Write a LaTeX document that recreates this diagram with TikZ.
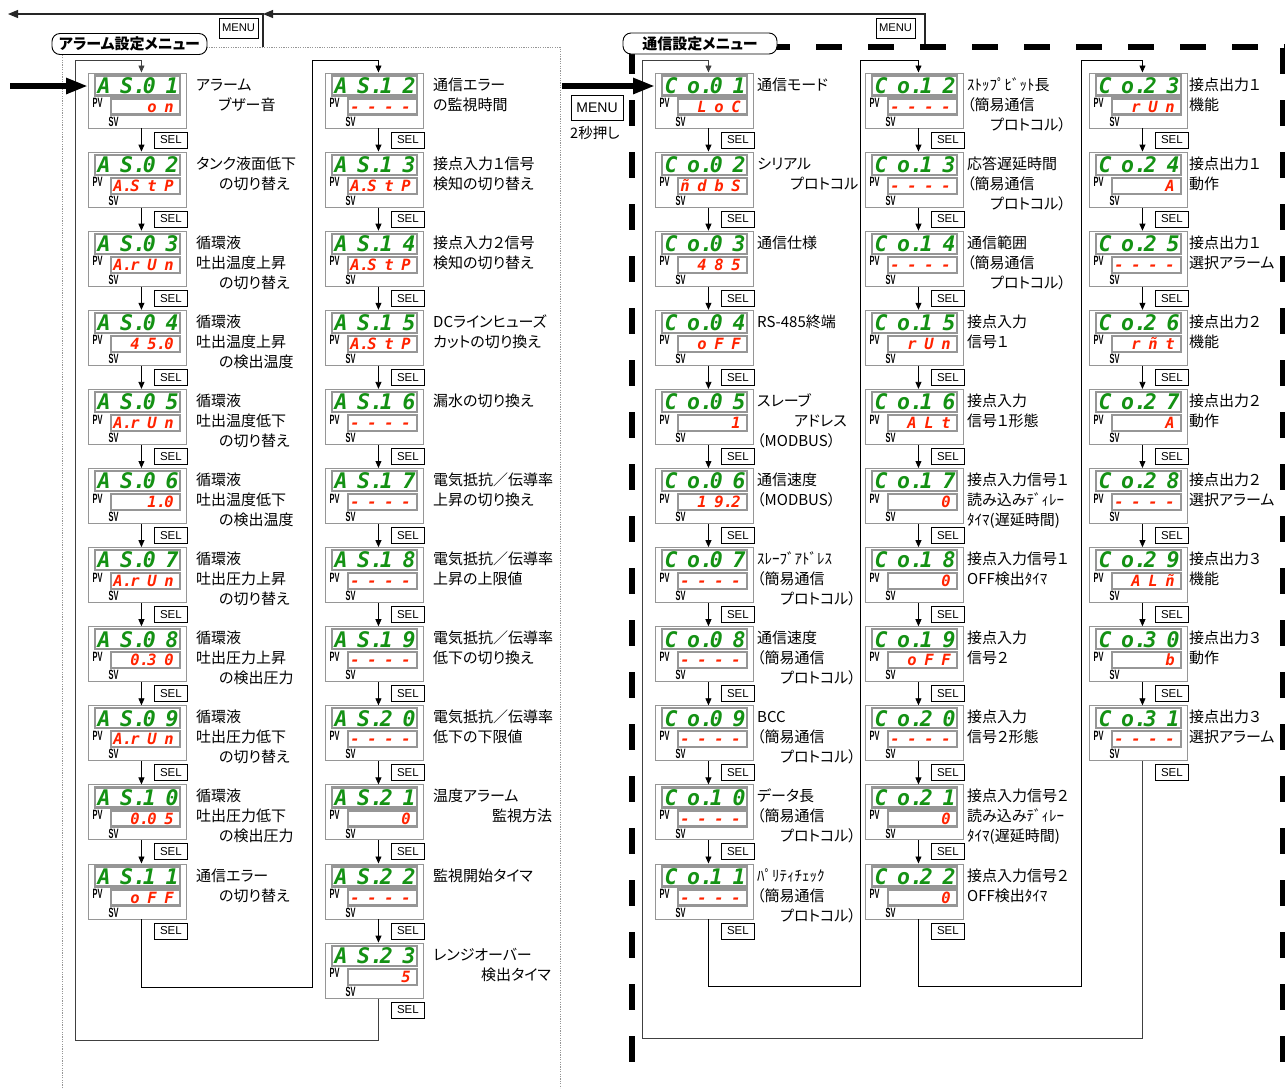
\documentclass[tikz,border=0pt]{standalone}
\usepackage{fontspec}
\setmainfont{Noto Sans CJK JP}[RawFeature=+palt]
\newfontfamily\segf{DejaVu Sans Mono}
\newfontfamily\arial{Liberation Sans}
\usetikzlibrary{arrows.meta}
\definecolor{sgreen}{RGB}{20,145,20}
\definecolor{sred}{RGB}{255,35,0}
\definecolor{fgray}{RGB}{150,150,150}
\newcommand\dt{\rlap{.}}
\newcounter{lbc}
\tikzset{
 pbox/.style={draw=fgray, line width=0.9pt, minimum width=98pt, minimum height=55pt, anchor=north west, inner sep=0pt, fill=white},
 dfr/.style={draw=fgray, line width=2.2pt},
 pvl/.style={font=\arial\bfseries\fontsize{13.5}{13.5}\selectfont, inner sep=0pt},
 pvc/.style={font=\segf\bfseries\itshape\fontsize{21.5}{21.5}\selectfont, text=sgreen, anchor=base, inner sep=0pt},
 svc/.style={font=\segf\bfseries\itshape\fontsize{15.5}{15.5}\selectfont, text=sred, anchor=base, inner sep=0pt},
 selbox/.style={draw, line width=0.8pt, font=\arial\fontsize{11.5}{11.5}\selectfont, minimum width=33pt, minimum height=16pt, inner sep=0pt, anchor=north west},
 lab/.style={anchor=base west, inner sep=0pt, font=\fontsize{15}{15}\selectfont},
 flow/.style={line width=0.8pt, -{Triangle[length=7pt,width=6pt]}},
 loopl/.style={line width=0.9pt, -{Triangle[length=7pt,width=6pt]}},
 toparrow/.style={line width=1.1pt, black!85, -{Triangle[length=10pt,width=8pt]}},
 bigarrow/.style={line width=5.5pt, -{Triangle[length=22pt,width=15pt]}},
 ttl/.style={draw, line width=0.9pt, fill=white, rounded corners=8pt, inner sep=0pt, font=\bfseries\fontsize{15}{15}\selectfont},
 menubox/.style={draw, line width=0.8pt, fill=white, inner sep=0pt, font=\arial\fontsize{11.2}{11.2}\selectfont, minimum width=39pt, minimum height=20pt},
 thickdash/.style={line width=6pt, dash pattern=on 26pt off 26pt},
}
\newcommand\dpanel[5]{%
 \pgfmathsetmacro\yo{72.5+79.1*(#2-1)}%
 \node[pbox] (#5) at (#1,\yo) {};
 \draw[dfr] (#1+7,\yo+3) rectangle (#1+92,\yo+23);
 \draw[dfr] (#1+23,\yo+26) rectangle (#1+92,\yo+42);
 \node[pvl] (#5-pv) at (#1+9.5,\yo+30.5) {\scalebox{0.55}[1]{PV}};
 \node[pvl] (#5-sv) at (#1+25.5,\yo+49) {\scalebox{0.55}[1]{SV}};
 \foreach \c [count=\i] in {#3} {\node[pvc] (#5-p\i) at (#1+16+22.7*\i-22.7,\yo+20.8) {\c};}
 \foreach \c [count=\i] in {#4} {\node[svc] (#5-s\i) at (#1+13+17*\i,\yo+39.6) {\c};}
 \node[selbox] (#5-sel) at (#1+66,\yo+59) {SEL};
}
\newcommand\lb[4]{%
 \pgfmathsetmacro\ly{72.5+79.1*(#2-1)+17.5+20*(#3-1)}%
 \stepcounter{lbc}%
 \node[lab] (lab\arabic{lbc}) at (#1,\ly) {#4};
}
\begin{document}
\begin{tikzpicture}[x=1pt,y=-1pt]
\useasboundingbox (0,0) rectangle (1285,1088);
\fill[white] (0,0) rectangle (1285,1088);

% frames
\draw[fgray, line width=0.8pt, dash pattern=on 1.2pt off 1.2pt] (62,1088) -- (62,47) -- (560,47) -- (560,1088);
\draw[thickdash] (764,47) -- (1286,47);
\draw[thickdash] (632,48) -- (632,1088);
\draw[thickdash] (1283,48) -- (1283,1088);

% top connectors
\coordinate (af) at (263,47);
\coordinate (aout) at (8,14);
\coordinate (aj) at (263,14);
\coordinate (cf) at (925,44);
\draw[toparrow] (af) |- (aout);
\draw[toparrow] (cf) |- (aj);
\node[menubox] (menuA) at (238.5,28) {MENU};
\node[menubox] (menuC) at (895.5,28) {MENU};

% alarm panels
\dpanel{88}{1}{A,S\dt,0,1}{{},{},o,n}{a1}
\dpanel{88}{2}{A,S\dt,0,2}{A\dt,S,t,P}{a2}
\dpanel{88}{3}{A,S\dt,0,3}{A\dt,r,U,n}{a3}
\dpanel{88}{4}{A,S\dt,0,4}{{},4,5\dt,0}{a4}
\dpanel{88}{5}{A,S\dt,0,5}{A\dt,r,U,n}{a5}
\dpanel{88}{6}{A,S\dt,0,6}{{},{},1\dt,0}{a6}
\dpanel{88}{7}{A,S\dt,0,7}{A\dt,r,U,n}{a7}
\dpanel{88}{8}{A,S\dt,0,8}{{},0\dt,3,0}{a8}
\dpanel{88}{9}{A,S\dt,0,9}{A\dt,r,U,n}{a9}
\dpanel{88}{10}{A,S\dt,1,0}{{},0\dt,0,5}{a10}
\dpanel{88}{11}{A,S\dt,1,1}{{},o,F,F}{a11}
\dpanel{325}{1}{A,S\dt,1,2}{-,-,-,-}{a12}
\dpanel{325}{2}{A,S\dt,1,3}{A\dt,S,t,P}{a13}
\dpanel{325}{3}{A,S\dt,1,4}{A\dt,S,t,P}{a14}
\dpanel{325}{4}{A,S\dt,1,5}{A\dt,S,t,P}{a15}
\dpanel{325}{5}{A,S\dt,1,6}{-,-,-,-}{a16}
\dpanel{325}{6}{A,S\dt,1,7}{-,-,-,-}{a17}
\dpanel{325}{7}{A,S\dt,1,8}{-,-,-,-}{a18}
\dpanel{325}{8}{A,S\dt,1,9}{-,-,-,-}{a19}
\dpanel{325}{9}{A,S\dt,2,0}{-,-,-,-}{a20}
\dpanel{325}{10}{A,S\dt,2,1}{{},{},{},0}{a21}
\dpanel{325}{11}{A,S\dt,2,2}{-,-,-,-}{a22}
\dpanel{325}{12}{A,S\dt,2,3}{{},{},{},5}{a23}

% comm panels
\dpanel{655}{1}{C,o\dt,0,1}{{},L,o,C}{c1}
\dpanel{655}{2}{C,o\dt,0,2}{ñ,d,b,S}{c2}
\dpanel{655}{3}{C,o\dt,0,3}{{},4,8,5}{c3}
\dpanel{655}{4}{C,o\dt,0,4}{{},o,F,F}{c4}
\dpanel{655}{5}{C,o\dt,0,5}{{},{},{},1}{c5}
\dpanel{655}{6}{C,o\dt,0,6}{{},1,9\dt,2}{c6}
\dpanel{655}{7}{C,o\dt,0,7}{-,-,-,-}{c7}
\dpanel{655}{8}{C,o\dt,0,8}{-,-,-,-}{c8}
\dpanel{655}{9}{C,o\dt,0,9}{-,-,-,-}{c9}
\dpanel{655}{10}{C,o\dt,1,0}{-,-,-,-}{c10}
\dpanel{655}{11}{C,o\dt,1,1}{-,-,-,-}{c11}
\dpanel{865}{1}{C,o\dt,1,2}{-,-,-,-}{c12}
\dpanel{865}{2}{C,o\dt,1,3}{-,-,-,-}{c13}
\dpanel{865}{3}{C,o\dt,1,4}{-,-,-,-}{c14}
\dpanel{865}{4}{C,o\dt,1,5}{{},r,U,n}{c15}
\dpanel{865}{5}{C,o\dt,1,6}{{},A,L,t}{c16}
\dpanel{865}{6}{C,o\dt,1,7}{{},{},{},0}{c17}
\dpanel{865}{7}{C,o\dt,1,8}{{},{},{},0}{c18}
\dpanel{865}{8}{C,o\dt,1,9}{{},o,F,F}{c19}
\dpanel{865}{9}{C,o\dt,2,0}{-,-,-,-}{c20}
\dpanel{865}{10}{C,o\dt,2,1}{{},{},{},0}{c21}
\dpanel{865}{11}{C,o\dt,2,2}{{},{},{},0}{c22}
\dpanel{1089}{1}{C,o\dt,2,3}{{},r,U,n}{c23}
\dpanel{1089}{2}{C,o\dt,2,4}{{},{},{},A}{c24}
\dpanel{1089}{3}{C,o\dt,2,5}{-,-,-,-}{c25}
\dpanel{1089}{4}{C,o\dt,2,6}{{},r,ñ,t}{c26}
\dpanel{1089}{5}{C,o\dt,2,7}{{},{},{},A}{c27}
\dpanel{1089}{6}{C,o\dt,2,8}{-,-,-,-}{c28}
\dpanel{1089}{7}{C,o\dt,2,9}{{},A,L,ñ}{c29}
\dpanel{1089}{8}{C,o\dt,3,0}{{},{},{},b}{c30}
\dpanel{1089}{9}{C,o\dt,3,1}{-,-,-,-}{c31}

% flow arrows
\foreach \a/\b in {a1/a2,a2/a3,a3/a4,a4/a5,a5/a6,a6/a7,a7/a8,a8/a9,a9/a10,a10/a11,
 a12/a13,a13/a14,a14/a15,a15/a16,a16/a17,a17/a18,a18/a19,a19/a20,a20/a21,a21/a22,a22/a23,
 c1/c2,c2/c3,c3/c4,c4/c5,c5/c6,c6/c7,c7/c8,c8/c9,c9/c10,c10/c11,
 c12/c13,c13/c14,c14/c15,c15/c16,c16/c17,c17/c18,c18/c19,c19/c20,c20/c21,c21/c22,
 c23/c24,c24/c25,c25/c26,c26/c27,c27/c28,c28/c29,c29/c30,c30/c31}
 {\draw[flow] ([xshift=4pt]\a.south) -- ([xshift=4pt]\b.north);}

% loops
\coordinate (k1) at (312,987); \coordinate (k2) at (312,60);
\coordinate (k3) at (75,1040); \coordinate (k4) at (75,60);
\coordinate (m1) at (860,986); \coordinate (m2) at (860,60);
\coordinate (m3) at (1081,986); \coordinate (m4) at (1081,60);
\coordinate (m5) at (642,1038); \coordinate (m6) at (642,60);
\draw[loopl] ([xshift=4pt]a11.south) |- (k1) -- (k2) -| ([xshift=4pt]a12.north);
\draw[loopl, black!75] ([xshift=4pt]a23.south) |- (k3) -- (k4) -| ([xshift=4pt]a1.north);
\draw[loopl] ([xshift=4pt]c11.south) |- (m1) -- (m2) -| ([xshift=4pt]c12.north);
\draw[loopl] ([xshift=4pt]c22.south) |- (m3) -- (m4) -| ([xshift=4pt]c23.north);
\draw[loopl, black!75] ([xshift=4pt]c31.south) |- (m5) -- (m6) -| ([xshift=4pt]c1.north);

% entry arrows
\coordinate (in1) at (10,86);
\coordinate (in2) at (562,86);
\draw[bigarrow] (in1) -- (in1 -| a1.west);
\draw[bigarrow] (in2) -- (in2 -| c1.west);
\node[menubox, minimum width=52pt, minimum height=25pt, font=\arial\fontsize{14}{14}\selectfont] (menuM) at (597,107.5) {MENU};
\node[anchor=west, inner sep=0pt, font=\fontsize{14.5}{14.5}\selectfont] (press) at (570,133) {2秒押し};

% titles
\node[ttl, minimum width=155pt, minimum height=21pt] (ttlA) at (129.5,44) {アラーム設定メニュー};
\node[ttl, minimum width=154pt, minimum height=21pt] (ttlC) at (700,43.5) {通信設定メニュー};

% alarm labels col1
\lb{196}{1}{1}{アラーム}\lb{218}{1}{2}{ブザー音}
\lb{196}{2}{1}{タンク液面低下}\lb{219}{2}{2}{の切り替え}
\lb{196}{3}{1}{循環液}\lb{196}{3}{2}{吐出温度上昇}\lb{219}{3}{3}{の切り替え}
\lb{196}{4}{1}{循環液}\lb{196}{4}{2}{吐出温度上昇}\lb{219}{4}{3}{の検出温度}
\lb{196}{5}{1}{循環液}\lb{196}{5}{2}{吐出温度低下}\lb{219}{5}{3}{の切り替え}
\lb{196}{6}{1}{循環液}\lb{196}{6}{2}{吐出温度低下}\lb{219}{6}{3}{の検出温度}
\lb{196}{7}{1}{循環液}\lb{196}{7}{2}{吐出圧力上昇}\lb{219}{7}{3}{の切り替え}
\lb{196}{8}{1}{循環液}\lb{196}{8}{2}{吐出圧力上昇}\lb{219}{8}{3}{の検出圧力}
\lb{196}{9}{1}{循環液}\lb{196}{9}{2}{吐出圧力低下}\lb{219}{9}{3}{の切り替え}
\lb{196}{10}{1}{循環液}\lb{196}{10}{2}{吐出圧力低下}\lb{219}{10}{3}{の検出圧力}
\lb{196}{11}{1}{通信エラー}\lb{219}{11}{2}{の切り替え}
% alarm labels col2
\lb{433}{1}{1}{通信エラー}\lb{433}{1}{2}{の監視時間}
\lb{433}{2}{1}{接点入力１信号}\lb{433}{2}{2}{検知の切り替え}
\lb{433}{3}{1}{接点入力２信号}\lb{433}{3}{2}{検知の切り替え}
\lb{433}{4}{1}{DCラインヒューズ}\lb{433}{4}{2}{カットの切り換え}
\lb{433}{5}{1}{漏水の切り換え}
\lb{433}{6}{1}{電気抵抗／伝導率}\lb{433}{6}{2}{上昇の切り換え}
\lb{433}{7}{1}{電気抵抗／伝導率}\lb{433}{7}{2}{上昇の上限値}
\lb{433}{8}{1}{電気抵抗／伝導率}\lb{433}{8}{2}{低下の切り換え}
\lb{433}{9}{1}{電気抵抗／伝導率}\lb{433}{9}{2}{低下の下限値}
\lb{433}{10}{1}{温度アラーム}\lb{492}{10}{2}{監視方法}
\lb{433}{11}{1}{監視開始タイマ}
\lb{433}{12}{1}{レンジオーバー}\lb{481}{12}{2}{検出タイマ}
% comm labels col1
\lb{757}{1}{1}{通信モード}
\lb{757}{2}{1}{シリアル}\lb{790}{2}{2}{プロトコル}
\lb{757}{3}{1}{通信仕様}
\lb{757}{4}{1}{RS-485終端}
\lb{757}{5}{1}{スレーブ}\lb{794}{5}{2}{アドレス}\lb{757}{5}{3}{（MODBUS）}
\lb{757}{6}{1}{通信速度}\lb{757}{6}{2}{（MODBUS）}
\lb{757}{7}{1}{ｽﾚｰﾌﾞｱﾄﾞﾚｽ}\lb{757}{7}{2}{（簡易通信}\lb{780}{7}{3}{プロトコル）}
\lb{757}{8}{1}{通信速度}\lb{757}{8}{2}{（簡易通信}\lb{780}{8}{3}{プロトコル）}
\lb{757}{9}{1}{BCC}\lb{757}{9}{2}{（簡易通信}\lb{780}{9}{3}{プロトコル）}
\lb{757}{10}{1}{データ長}\lb{757}{10}{2}{（簡易通信}\lb{780}{10}{3}{プロトコル）}
\lb{757}{11}{1}{ﾊﾟﾘﾃｨﾁｪｯｸ}\lb{757}{11}{2}{（簡易通信}\lb{780}{11}{3}{プロトコル）}
% comm labels col2
\lb{967}{1}{1}{ｽﾄｯﾌﾟﾋﾞｯﾄ長}\lb{967}{1}{2}{（簡易通信}\lb{990}{1}{3}{プロトコル）}
\lb{967}{2}{1}{応答遅延時間}\lb{967}{2}{2}{（簡易通信}\lb{990}{2}{3}{プロトコル）}
\lb{967}{3}{1}{通信範囲}\lb{967}{3}{2}{（簡易通信}\lb{990}{3}{3}{プロトコル）}
\lb{967}{4}{1}{接点入力}\lb{967}{4}{2}{信号１}
\lb{967}{5}{1}{接点入力}\lb{967}{5}{2}{信号１形態}
\lb{967}{6}{1}{接点入力信号１}\lb{967}{6}{2}{読み込みﾃﾞｨﾚｰ}\lb{967}{6}{3}{ﾀｲﾏ(遅延時間)}
\lb{967}{7}{1}{接点入力信号１}\lb{967}{7}{2}{OFF検出ﾀｲﾏ}
\lb{967}{8}{1}{接点入力}\lb{967}{8}{2}{信号２}
\lb{967}{9}{1}{接点入力}\lb{967}{9}{2}{信号２形態}
\lb{967}{10}{1}{接点入力信号２}\lb{967}{10}{2}{読み込みﾃﾞｨﾚｰ}\lb{967}{10}{3}{ﾀｲﾏ(遅延時間)}
\lb{967}{11}{1}{接点入力信号２}\lb{967}{11}{2}{OFF検出ﾀｲﾏ}
% comm labels col3
\lb{1189}{1}{1}{接点出力１}\lb{1189}{1}{2}{機能}
\lb{1189}{2}{1}{接点出力１}\lb{1189}{2}{2}{動作}
\lb{1189}{3}{1}{接点出力１}\lb{1189}{3}{2}{選択アラーム}
\lb{1189}{4}{1}{接点出力２}\lb{1189}{4}{2}{機能}
\lb{1189}{5}{1}{接点出力２}\lb{1189}{5}{2}{動作}
\lb{1189}{6}{1}{接点出力２}\lb{1189}{6}{2}{選択アラーム}
\lb{1189}{7}{1}{接点出力３}\lb{1189}{7}{2}{機能}
\lb{1189}{8}{1}{接点出力３}\lb{1189}{8}{2}{動作}
\lb{1189}{9}{1}{接点出力３}\lb{1189}{9}{2}{選択アラーム}
\end{tikzpicture}
\end{document}
